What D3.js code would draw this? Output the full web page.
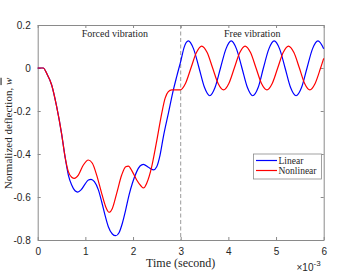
<!DOCTYPE html>
<html>
<head>
<meta charset="utf-8">
<script src="https://cdn.jsdelivr.net/npm/d3@7"></script>
<style>
    body { margin: 0; background: #fff; }
    .tick text { font-family: "Liberation Sans", Arial, sans-serif; font-size: 10px; fill: #262626; }
    .serif { font-family: "Liberation Serif", "DejaVu Serif", serif; fill: #262626; }
</style>
</head>
<body>
<div id="chart"></div>
<script>
// data (time in ms, i.e. x 10^-3 s)
const linearTime = [0, 0.118, 0.188, 0.293, 0.398, 0.5, 0.573, 0.643, 0.713, 0.783, 0.839, 0.909, 0.993, 1.063, 1.119, 1.189,
    1.273, 1.342, 1.412, 1.482, 1.566, 1.636, 1.706, 1.776, 1.846, 1.916, 1.986, 2.077, 2.147, 2.217, 2.322, 2.427, 2.497,
    2.567, 2.637, 2.741, 2.846, 2.916, 3.007, 3.07, 3.16, 3.27, 3.385, 3.5, 3.61, 3.72, 3.835, 3.95, 4.06, 4.17, 4.285,
    4.4, 4.51, 4.625, 4.735, 4.85, 4.96, 5.075, 5.19, 5.305, 5.42, 5.535, 5.65, 5.765, 5.88, 6.0];
const linearValues = [0, 0, -0.025, -0.079, -0.18, -0.304, -0.412, -0.498, -0.544, -0.571, -0.577, -0.567, -0.54, -0.521, -0.518, -0.529,
    -0.567, -0.622, -0.684, -0.738, -0.772, -0.78, -0.766, -0.722, -0.66, -0.591, -0.536, -0.482, -0.456, -0.448, -0.462, -0.474, -0.459,
    -0.405, -0.319, -0.211, -0.102, -0.04, 0.037, 0.095, 0.126, 0.089, 0, -0.091, -0.129, -0.091, 0, 0.089, 0.126, 0.089, 0,
    -0.091, -0.129, -0.091, 0, 0.089, 0.126, 0.089, 0, -0.091, -0.129, -0.091, 0, 0.089, 0.126, 0.09];

const nonlinearTime = [0, 0.118, 0.188, 0.293, 0.398, 0.5, 0.573, 0.643, 0.713, 0.769, 0.853, 0.958, 1.063, 1.147, 1.237, 1.342,
    1.426, 1.496, 1.566, 1.657, 1.762, 1.846, 1.902, 1.986, 2.077, 2.168, 2.22, 2.287, 2.392, 2.462, 2.532, 2.602, 2.672,
    2.741, 2.811, 2.9, 2.99, 3.1, 3.215, 3.33, 3.44, 3.555, 3.67, 3.785, 3.9, 4.01, 4.125, 4.24, 4.35, 4.465, 4.58, 4.695,
    4.81, 4.92, 5.035, 5.15, 5.26, 5.375, 5.49, 5.6, 5.71, 5.82, 5.935, 6.0];
const nonlinearValues = [0, 0, -0.025, -0.079, -0.18, -0.304, -0.412, -0.482, -0.508, -0.513, -0.498, -0.451, -0.428, -0.443, -0.498, -0.583,
    -0.645, -0.671, -0.653, -0.583, -0.498, -0.459, -0.456, -0.482, -0.521, -0.549, -0.558, -0.536, -0.459, -0.381, -0.296, -0.211, -0.141,
    -0.11, -0.102, -0.102, -0.102, -0.072, 0, 0.072, 0.102, 0.072, 0, -0.072, -0.102, -0.072, 0, 0.072, 0.102, 0.072, 0, -0.072,
    -0.102, -0.072, 0, 0.072, 0.102, 0.072, 0, -0.072, -0.102, -0.072, 0, 0.045];

const xTicks = [0, 1, 2, 3, 4, 5, 6];
const yTicks = [-0.8, -0.6, -0.4, -0.2, 0, 0.2];
const phaseLabels = ["Forced vibration", "Free vibration"];
const phaseCenters = [1.62, 4.5];
const switchTime = 3;

const width = 341;
const height = 278;
const margin = { top: 25, bottom: 38, left: 37.7, right: 17.3 };
const innerW = width - margin.left - margin.right;
const innerH = height - margin.top - margin.bottom;

const svg = d3.select("div#chart").append("svg")
    .attr("width", width)
    .attr("height", height);

const x = d3.scaleLinear().domain([0, 6]).range([0, innerW]);
const y = d3.scaleLinear().domain([-0.8, 0.2]).range([innerH, 0]);

const g = svg.append("g").attr("transform", `translate(${margin.left},${margin.top})`);

// axes (MATLAB style, ticks inside, box on)
const axisColor = "#8a8a8a";
const fmt = (d) => (d === 0 ? "0" : d3.format(".1f")(d)).replace("−", "-");

const xAxisGroup = g.append("g").attr("transform", `translate(0,${innerH})`)
    .call(d3.axisBottom(x).tickValues(xTicks).tickSizeInner(-3).tickSizeOuter(0).tickPadding(8).tickFormat(d3.format("d")));
const yAxisGroup = g.append("g")
    .call(d3.axisLeft(y).tickValues(yTicks).tickSizeInner(-3).tickSizeOuter(0).tickPadding(7).tickFormat(fmt));
const topAxis = g.append("g")
    .call(d3.axisTop(x).tickValues(xTicks).tickSizeInner(-3).tickSizeOuter(0).tickFormat(""));
const rightAxis = g.append("g").attr("transform", `translate(${innerW},0)`)
    .call(d3.axisRight(y).tickValues(yTicks).tickSizeInner(-3).tickSizeOuter(0).tickFormat(""));

[xAxisGroup, yAxisGroup, topAxis, rightAxis].forEach((a) => {
    a.select(".domain").attr("stroke", axisColor);
    a.selectAll(".tick line").attr("stroke", axisColor);
});

// vertical dashed separator
g.append("line")
    .attr("x1", x(switchTime)).attr("x2", x(switchTime))
    .attr("y1", 0).attr("y2", innerH)
    .attr("stroke", "#808080")
    .attr("stroke-width", 0.8)
    .attr("stroke-dasharray", "4,2.5");

// curves
const line = d3.line()
    .x((d) => x(d[0]))
    .y((d) => y(d[1]))
    .curve(d3.curveMonotoneX);

const linearData = linearTime.map((t, i) => [t, linearValues[i]]);
const nonlinearData = nonlinearTime.map((t, i) => [t, nonlinearValues[i]]);

g.append("path").datum(linearData)
    .attr("d", line)
    .attr("fill", "none")
    .attr("stroke", "#0000ff")
    .attr("stroke-width", 1.2);

g.append("path").datum(nonlinearData)
    .attr("d", line)
    .attr("fill", "none")
    .attr("stroke", "#ff0000")
    .attr("stroke-width", 1.2);

// phase labels
g.selectAll("text.phase").data(phaseLabels).enter()
    .append("text")
    .attr("class", "phase serif")
    .attr("x", (d, i) => x(phaseCenters[i]))
    .attr("y", 12)
    .attr("text-anchor", "middle")
    .attr("font-size", "10px")
    .text((d) => d);

// axis titles
svg.append("text")
    .attr("class", "serif")
    .attr("x", margin.left + innerW / 2)
    .attr("y", 267)
    .attr("text-anchor", "middle")
    .attr("font-size", "12px")
    .text("Time (second)");

const yTitle = svg.append("text")
    .attr("class", "serif")
    .attr("transform", `translate(11.5,${margin.top + innerH / 2 + 1}) rotate(-90)`)
    .attr("text-anchor", "middle")
    .attr("font-size", "11px");
yTitle.append("tspan").text("Normalized deflection, ");
yTitle.append("tspan").attr("text-decoration", "overline").attr("font-style", "italic").text("w");

// exponent
const expo = svg.append("text")
    .attr("x", 296.5)
    .attr("y", 271)
    .attr("font-family", "Liberation Sans, Arial, sans-serif")
    .attr("font-size", "10px")
    .attr("fill", "#262626");
expo.append("tspan").text("\u00d710");
expo.append("tspan").attr("dy", -5).attr("font-size", "8px").text("-3");

// legend
const legendItems = ["Linear", "Nonlinear"];
const legendColors = ["#0000ff", "#ff0000"];
const legend = svg.append("g").attr("transform", "translate(253.5,154)");
legend.append("rect")
    .attr("width", 68).attr("height", 25)
    .attr("fill", "#fff")
    .attr("stroke", "#8a8a8a")
    .attr("stroke-width", 0.8);
const rows = legend.selectAll("g.row").data(legendItems).enter()
    .append("g").attr("class", "row")
    .attr("transform", (d, i) => `translate(0,${6.5 + i * 10})`);
rows.append("line")
    .attr("x1", 2.5).attr("x2", 23.5)
    .attr("stroke", (d, i) => legendColors[i])
    .attr("stroke-width", 1.2);
rows.append("text")
    .attr("class", "serif")
    .attr("x", 25)
    .attr("y", 3.3)
    .attr("font-size", "9.5px")
    .text((d) => d);
</script>
</body>
</html>
